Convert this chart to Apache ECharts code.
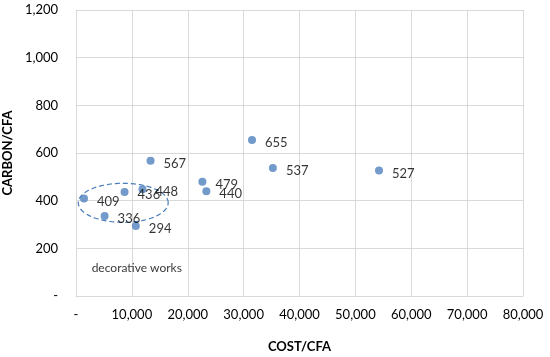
<!DOCTYPE html>
<html><head><meta charset="utf-8">
<script src="https://cdn.jsdelivr.net/npm/echarts@6/dist/echarts.min.js"></script>
<style>html,body{margin:0;padding:0;background:#fff}#c{width:550px;height:357px}</style>
</head><body><div id="c"></div>
<script>
const costValues = [1430, 5120, 8690, 11900, 10710, 13340, 22620, 23330, 31500, 35240, 54230];
const carbonValues = [409, 336, 436, 448, 294, 567, 479, 440, 655, 537, 527];
const pointLabels = ['409', '336', '436', '448', '294', '567', '479', '440', '655', '537', '527'];
const ellipseCenter = [8450, 391];
const ellipseRadii = [8050, 82];
const annotationText = 'decorative works';

const FONT = 'Lato';
const fmt = v => v === 0 ? '-' : v.toLocaleString('en-US');
const chart = echarts.init(document.getElementById('c'));
chart.setOption({
  animation: false,
  textStyle: {fontFamily: FONT},
  grid: {left: 76, top: 10, right: 27, bottom: 61, containLabel: false, outerBoundsMode: 'none'},
  xAxis: {
    type: 'value', min: 0, max: 80000, interval: 10000,
    name: 'COST/CFA', nameLocation: 'middle', nameGap: 44,
    nameTextStyle: {fontFamily: FONT, fontWeight: 'bold', fontSize: 13, color: '#000'},
    axisLine: {show: true, lineStyle: {color: '#d9d9d9'}},
    axisTick: {show: false},
    splitLine: {show: true, lineStyle: {color: '#d9d9d9'}},
    axisLabel: {formatter: fmt, fontFamily: FONT, fontSize: 13, color: '#000', margin: 12}
  },
  yAxis: {
    type: 'value', min: 0, max: 1200, interval: 200,
    name: 'CARBON/CFA', nameLocation: 'middle', nameGap: 51, nameRotate: 90,
    nameTextStyle: {fontFamily: FONT, fontWeight: 'bold', fontSize: 13, color: '#000'},
    axisLine: {show: true, lineStyle: {color: '#d9d9d9'}},
    axisTick: {show: false},
    splitLine: {show: true, lineStyle: {color: '#d9d9d9'}},
    axisLabel: {formatter: fmt, fontFamily: FONT, fontSize: 13, color: '#000', margin: 18}
  },
  series: [{
    type: 'scatter',
    data: costValues.map((x, i) => [x, carbonValues[i], pointLabels[i]]),
    symbolSize: 8,
    itemStyle: {color: '#4f81bd'},
    label: {show: true, position: 'right', distance: 9, formatter: p => p.data[2],
      fontFamily: FONT, fontSize: 13, color: '#000', offset: [0, 3]}
  }, {
    type: 'custom',
    data: [[ellipseCenter[0], ellipseCenter[1]]],
    silent: true,
    renderItem: function (params, api) {
      const pts = [];
      for (let k = 0; k < 90; k++) {
        const t = k / 90 * Math.PI * 2;
        pts.push(api.coord([ellipseCenter[0] + ellipseRadii[0] * Math.cos(t), ellipseCenter[1] + ellipseRadii[1] * Math.sin(t)]));
      }
      return {type: 'polygon', shape: {points: pts},
        style: {fill: 'none', stroke: '#4a7ebb', lineWidth: 1.2, lineDash: [5, 3]}};
    }
  }, {
    type: 'scatter',
    data: [[2800, 115]],
    symbolSize: 0,
    silent: true,
    label: {show: true, position: 'right', distance: 0, formatter: annotationText,
      fontFamily: FONT, fontSize: 12, color: '#000'}
  }]
});
</script></body></html>
